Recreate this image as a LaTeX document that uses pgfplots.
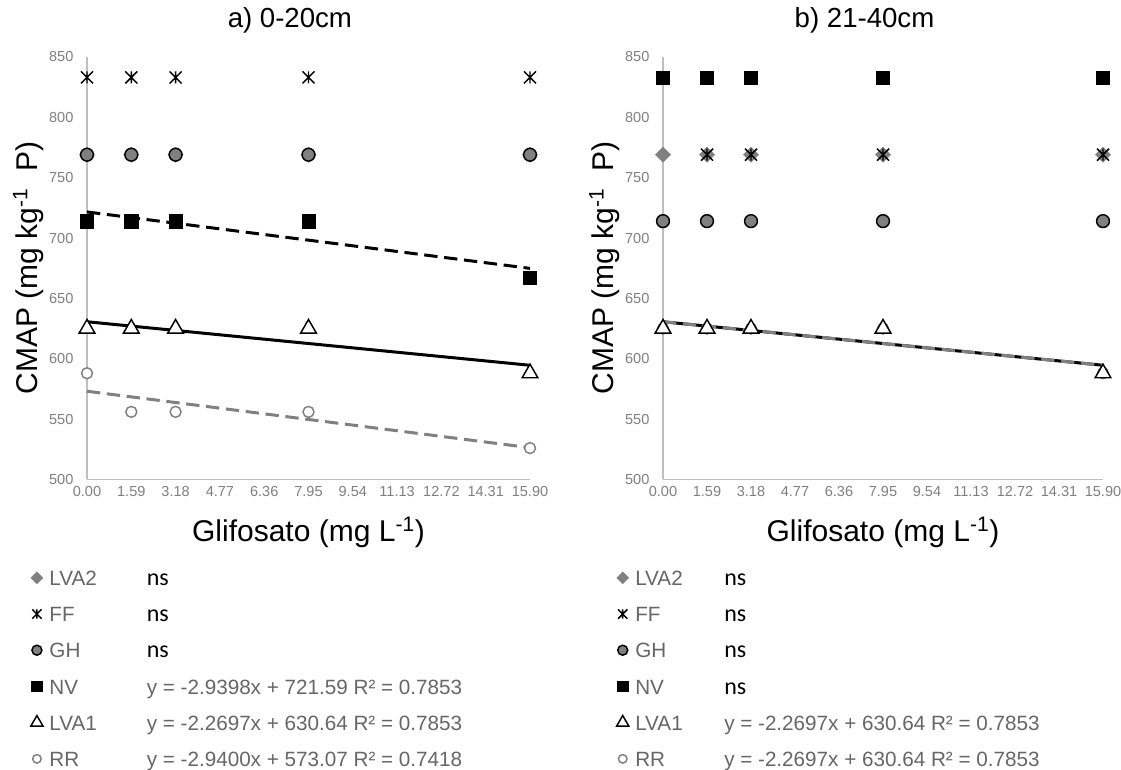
\documentclass[border=0pt]{standalone}
\usepackage{pgfplots}
\pgfplotsset{compat=1.18}
\usepackage{fontspec}
\setmainfont{Liberation Sans}
\newfontfamily\nsfont{Carlito}
\definecolor{axisgray}{HTML}{BFBFBF}
\definecolor{tickgray}{HTML}{7F7F7F}
\definecolor{leggray}{HTML}{666666}
\definecolor{markgray}{HTML}{808080}

\pgfdeclareplotmark{xstar}{%
  \pgfpathmoveto{\pgfqpoint{0pt}{\pgfplotmarksize}}%
  \pgfpathlineto{\pgfqpoint{0pt}{-\pgfplotmarksize}}%
  \pgfpathmoveto{\pgfqpoint{\pgfplotmarksize}{\pgfplotmarksize}}%
  \pgfpathlineto{\pgfqpoint{-\pgfplotmarksize}{-\pgfplotmarksize}}%
  \pgfpathmoveto{\pgfqpoint{\pgfplotmarksize}{-\pgfplotmarksize}}%
  \pgfpathlineto{\pgfqpoint{-\pgfplotmarksize}{\pgfplotmarksize}}%
  \pgfusepathqstroke}

\newcommand{\ns}{{\nsfont\fontsize{18}{20}\selectfont\color{black}ns}}

\pgfplotsset{
  panel/.style={
    scale only axis, width=332.25pt, height=316.9pt, anchor=south west,
    xmin=0, xmax=15.9, ymin=500, ymax=850,
    axis lines*=left,
    axis line style={axisgray, line width=0.9pt},
    xtick={0,1.59,3.18,4.77,6.36,7.95,9.54,11.13,12.72,14.31,15.9},
    xticklabels={0.00,1.59,3.18,4.77,6.36,7.95,9.54,11.13,12.72,14.31,15.90},
    ytick={500,550,600,650,700,750,800,850},
    major tick length=0pt,
    tick label style={font=\fontsize{10.9}{12}\selectfont, text=tickgray},
    xticklabel style={yshift=-2pt},
    yticklabel style={xshift=-6.7pt},
    /pgf/number format/assume math mode=true,
    clip=false,
    title style={anchor=base, yshift=15.75pt,
      font=\fontsize{20.7}{24}\selectfont},
    xlabel={Glifosato (mg L\textsuperscript{-1})},
    xlabel style={anchor=base, yshift=-46.9pt,
      font=\fontsize{22.5}{26}\selectfont},
    ylabel={CMAP (mg kg\textsuperscript{-1}\ \ P)},
    ylabel style={anchor=base, font=\fontsize{22.5}{26}\selectfont},
    legend cell align=left,
    legend image code/.code={%
      \path[use as bounding box, draw=none, fill=none] (-5pt,-6pt) rectangle (5pt,6pt);
      \draw[mark repeat=2,mark phase=2,##1, every mark/.append style={scale=0.78}]
        plot coordinates {(-4pt,1.4pt)(0pt,1.4pt)(4pt,1.4pt)};},
    legend style={draw=none, fill=none, anchor=north west, inner sep=0pt,
      font=\fontsize{15.5}{18}\selectfont, text=leggray, row sep=13.15pt,
      nodes={inner sep=0pt, text height=11.3pt, text depth=2.7pt},
      /tikz/every odd column/.append style={column sep=4.4pt}},
  },
  mLVA2/.style={only marks, mark=square*, mark size=4pt, mark options={rotate=45, fill=markgray, draw=markgray}},
  mFF/.style={only marks, mark=xstar, mark size=4.5pt, mark options={black, line width=1.1pt}},
  mGH/.style={only marks, mark=*, mark size=4.8pt, mark options={fill=markgray, draw=black, line width=1.1pt}},
  mNV/.style={only marks, mark=square*, mark size=5pt, mark options={fill=black, draw=black}},
  mLVA1/.style={only marks, mark=triangle*, mark size=6.8pt, mark options={fill=white, draw=black, line width=1.1pt}},
  mRR/.style={only marks, mark=*, mark size=4.1pt, mark options={fill=white, draw=markgray, line width=1.1pt}},
}

\begin{document}
\begin{tikzpicture}
\useasboundingbox (0,0) rectangle (840.75pt,577.5pt);

% ---------------- panel a ----------------
\begin{axis}[panel, at={(65.25pt,217.9pt)}, title={a) 0-20cm},
  title style={at={(axis description cs:0.458,1)}},
  xlabel style={at={(axis description cs:0.5,0)}},
  ylabel style={at={(axis description cs:-0.1117,0.5)}},
  legend style={at={(axis description cs:-0.1287,-0.2145)}}]
\addplot[forget plot, black, line width=2.25pt, dash pattern=on 10pt off 5pt] coordinates {(0,721.59) (15.9,674.85)};
\addplot[forget plot, black, line width=2.25pt] coordinates {(0,630.64) (15.9,594.58)};
\addplot[forget plot, markgray, line width=2.25pt, dash pattern=on 10pt off 5pt] coordinates {(0,573.07) (15.9,526.32)};
\addplot[mLVA2] coordinates {(0,769) (1.59,769) (3.18,769) (7.95,769) (15.9,769)};
\addlegendentry{\makebox[73pt][l]{LVA2}\ns}
\addplot[mFF] coordinates {(0,833) (1.59,833) (3.18,833) (7.95,833) (15.9,833)};
\addlegendentry{\makebox[73pt][l]{FF}\ns}
\addplot[mGH] coordinates {(0,769) (1.59,769) (3.18,769) (7.95,769) (15.9,769)};
\addlegendentry{\makebox[73pt][l]{GH}\ns}
\addplot[mNV] coordinates {(0,714) (1.59,714) (3.18,714) (7.95,714) (15.9,667)};
\addlegendentry{\makebox[73pt][l]{NV}y = -2.9398x + 721.59 R² = 0.7853}
\addplot[mLVA1] coordinates {(0,625) (1.59,625) (3.18,625) (7.95,625) (15.9,588)};
\addlegendentry{\makebox[73pt][l]{LVA1}y = -2.2697x + 630.64 R² = 0.7853}
\addplot[mRR] coordinates {(0,588) (1.59,556) (3.18,556) (7.95,556) (15.9,526)};
\addlegendentry{\makebox[73pt][l]{RR}y = -2.9400x + 573.07 R² = 0.7418}
\end{axis}

% ---------------- panel b ----------------
\begin{axis}[panel, at={(497.25pt,217.9pt)}, width=330pt, title={b) 21-40cm},
  title style={at={(axis description cs:0.458,1)}},
  xlabel style={at={(axis description cs:0.5,0)}},
  ylabel style={at={(axis description cs:-0.1123,0.5)}},
  legend style={at={(axis description cs:-0.1073,-0.2145)}}]
\addplot[forget plot, black, line width=2.25pt] coordinates {(0,630.64) (15.9,594.58)};
\addplot[forget plot, markgray, line width=2.25pt, dash pattern=on 10pt off 5pt] coordinates {(0,630.64) (15.9,594.58)};
\addplot[mRR, forget plot] coordinates {(0,625) (1.59,625) (3.18,625) (7.95,625) (15.9,588)};
\addplot[mLVA2] coordinates {(0,769) (1.59,769) (3.18,769) (7.95,769) (15.9,769)};
\addlegendentry{\makebox[66.75pt][l]{LVA2}\ns}
\addplot[mFF] coordinates {(1.59,769) (3.18,769) (7.95,769) (15.9,769)};
\addlegendentry{\makebox[66.75pt][l]{FF}\ns}
\addplot[mGH] coordinates {(0,714) (1.59,714) (3.18,714) (7.95,714) (15.9,714)};
\addlegendentry{\makebox[66.75pt][l]{GH}\ns}
\addplot[mNV] coordinates {(0,833) (1.59,833) (3.18,833) (7.95,833) (15.9,833)};
\addlegendentry{\makebox[66.75pt][l]{NV}\ns}
\addplot[mLVA1] coordinates {(0,625) (1.59,625) (3.18,625) (7.95,625) (15.9,588)};
\addlegendentry{\makebox[66.75pt][l]{LVA1}y = -2.2697x + 630.64 R² = 0.7853}
\addlegendimage{mRR}
\addlegendentry{\makebox[66.75pt][l]{RR}y = -2.2697x + 630.64 R² = 0.7853}
\end{axis}
\end{tikzpicture}
\end{document}
